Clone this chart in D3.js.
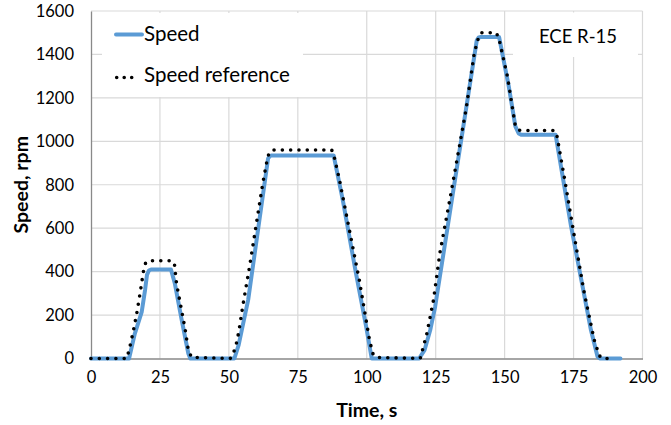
<!DOCTYPE html>
<html>
<head>
<meta charset="utf-8">
<script src="https://cdn.jsdelivr.net/npm/d3@7"></script>
<style>
  html, body { margin: 0; padding: 0; background: #fff; }
  svg { display: block; }
  text { font-family: Lato, "Open Sans", sans-serif; fill: #000; }
</style>
</head>
<body>
<svg id="chart" width="671" height="425"></svg>
<script>
// Measured motor speed over the ECE R-15 cycle
const speedTime = [0, 13.8, 15.9, 18.4, 19.6, 20.3, 21.0, 21.8, 29.0, 30.4, 32.9, 35.3, 36.0,
  52.0, 53.5, 55.0, 57.0, 64.2, 64.9, 65.6, 88.0, 91.3, 96.1, 99.8, 101.8,
  119.0, 121.0, 123.0, 124.8, 139.9, 140.6, 141.4, 148.0, 151.5, 153.9, 155.1, 156.0, 168.5,
  174.1, 181.3, 183.7, 184.5, 192.0];
const speedRpm = [0, 0, 115, 215, 315, 385, 405, 410, 410, 346, 177, 23, 0,
  0, 60, 150, 270, 920, 933, 935, 935, 730, 392, 146, 0,
  0, 40, 130, 238, 1465, 1478, 1480, 1480, 1253, 1069, 1036, 1030, 1030,
  608, 131, 8, 0, 0];

// Speed set-point (reference profile)
const refTime = [0, 13.0, 14.1, 15.3, 16.6, 17.8, 19.0, 19.8, 20.6, 29.5, 30.3, 31.0, 34.1, 35.3, 36.5,
  50.5, 51.6, 52.6, 53.6, 55.1, 57.5, 62.3, 64.1, 65.0, 65.8, 87.3, 88.3, 90.1, 93.7, 97.3, 101.0, 102.2, 103.4,
  119.4, 121.8, 124.2, 126.5, 130.1, 136.0, 139.0, 140.8, 141.6, 147.0, 148.0, 151.0, 153.9, 155.0, 155.8,
  168.0, 168.8, 171.8, 175.3, 178.9, 182.5, 184.3, 185.2, 189.0];
const refRpm = [0, 0, 54, 123, 208, 300, 400, 440, 450, 450, 430, 346, 138, 38, 5,
  0, 23, 62, 123, 246, 423, 807, 930, 955, 960, 960, 923, 823, 592, 361, 85, 23, 5,
  0, 115, 269, 484, 730, 1146, 1407, 1490, 1500, 1500, 1469, 1300, 1069, 1052, 1050,
  1050, 1038, 823, 561, 300, 85, 15, 0, 0];

const xTicks = [0, 25, 50, 75, 100, 125, 150, 175, 200];
const yTicks = [0, 200, 400, 600, 800, 1000, 1200, 1400, 1600];

const seriesNames = ["Speed", "Speed reference"];
const cycleLabel = "ECE R-15";
const xTitle = "Time, s";
const yTitle = "Speed, rpm";

const svg = d3.select("#chart");

const x = d3.scaleLinear().domain([0, 200]).range([91, 642.5]);
const y = d3.scaleLinear().domain([0, 1600]).range([358.5, 11]);

// gridlines
const grid = svg.append("g");
grid.selectAll("line.h").data(yTicks.slice(1)).join("line")
  .attr("x1", x(0)).attr("x2", x(200))
  .attr("y1", d => y(d)).attr("y2", d => y(d))
  .attr("stroke", "#d9d9d9").attr("stroke-width", 1.2);
grid.selectAll("line.v").data(xTicks.slice(1)).join("line")
  .attr("x1", d => x(d)).attr("x2", d => x(d))
  .attr("y1", y(0)).attr("y2", y(1600))
  .attr("stroke", "#d9d9d9").attr("stroke-width", 1.2);

// axes
const xAxis = d3.axisBottom(x).tickValues(xTicks).tickSize(0).tickPadding(13).tickFormat(d3.format("d"));
const yAxis = d3.axisLeft(y).tickValues(yTicks).tickSize(0).tickPadding(17).tickFormat(d3.format("d"));

const gx = svg.append("g").attr("transform", `translate(0,${y(0)})`).call(xAxis);
const gy = svg.append("g").attr("transform", `translate(${x(0)},0)`).call(yAxis);
[gx, gy].forEach(g => {
  g.select(".domain").attr("stroke", "#898989").attr("stroke-width", 1.3);
  g.selectAll("text").style("font-family", "Lato, sans-serif").style("font-size", "16.5px").attr("fill", "#000");
});

// boxes behind the legend and the cycle label
svg.append("rect").attr("x", 102).attr("y", 13).attr("width", 201).attr("height", 84).attr("fill", "#fff");
svg.append("rect").attr("x", 513).attr("y", 12.5).attr("width", 125).attr("height", 44.5).attr("fill", "#fff");

// series
const speedLine = d3.line().x(d => x(d[0])).y(d => y(d[1]));
svg.append("path")
  .datum(d3.zip(speedTime, speedRpm))
  .attr("d", speedLine)
  .attr("fill", "none").attr("stroke", "#5b9bd5").attr("stroke-width", 4)
  .attr("stroke-linejoin", "round").attr("stroke-linecap", "round");

svg.append("path")
  .datum(d3.zip(refTime, refRpm))
  .attr("d", speedLine)
  .attr("fill", "none").attr("stroke", "#000").attr("stroke-width", 3.6)
  .attr("stroke-dasharray", "0 8.3").attr("stroke-linecap", "round");

// legend
const legend = svg.append("g");
legend.append("line").attr("x1", 116).attr("x2", 142).attr("y1", 34.5).attr("y2", 34.5)
  .attr("stroke", "#5b9bd5").attr("stroke-width", 4).attr("stroke-linecap", "round");
legend.append("text").attr("x", 144).attr("y", 40.7).style("font-size", "20.5px").text(seriesNames[0]);
legend.append("line").attr("x1", 116.7).attr("x2", 132).attr("y1", 77.5).attr("y2", 77.5)
  .attr("stroke", "#000").attr("stroke-width", 3.6)
  .attr("stroke-dasharray", "0 7.5").attr("stroke-linecap", "round");
legend.append("text").attr("x", 144).attr("y", 81.7).style("font-size", "20.5px").text(seriesNames[1]);

svg.append("text").attr("x", 578).attr("y", 42.7).attr("text-anchor", "middle")
  .style("font-size", "18.5px").text(cycleLabel);

// axis titles
svg.append("text").attr("x", (x(0) + x(200)) / 2).attr("y", 416.5)
  .attr("text-anchor", "middle").style("font-size", "19.5px").style("font-weight", "bold").text(xTitle);
svg.append("text").attr("transform", `translate(28,${(y(0) + y(1600)) / 2}) rotate(-90)`)
  .attr("text-anchor", "middle").style("font-size", "19.5px").style("font-weight", "bold").text(yTitle);
</script>
</body>
</html>
